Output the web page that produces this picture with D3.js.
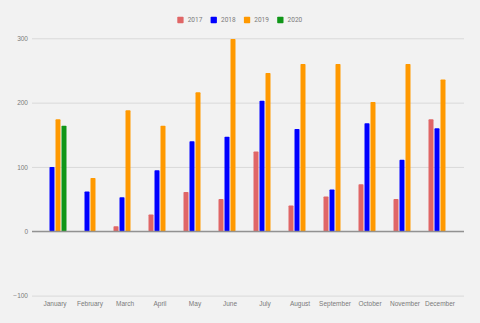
<!DOCTYPE html>
<html><head><meta charset="utf-8">
<script src="https://cdn.jsdelivr.net/npm/d3@7/dist/d3.min.js"></script>
<style>html,body{margin:0;padding:0;background:#f2f2f2;}svg{display:block;font-family:Roboto,"Noto Sans",sans-serif;}</style>
</head><body><svg id="c" width="480" height="323"></svg>
<script>
const months = ["January","February","March","April","May","June","July","August","September","October","November","December"];
const seriesNames = ["2017","2018","2019","2020"];
const colors = ["#e06666","#0000ff","#ff9900","#109618"];
const v2017 = [null,null,8,26,61,50,124,40,54,73,50,174];
const v2018 = [100,62,53,95,140,147,203,159,65,168,111,160];
const v2019 = [174,83,188,164,216,299,246,260,260,201,260,236];
const v2020 = [164,null,null,null,null,null,null,null,null,null,null,null];
const yTicks = [-100,0,100,200,300];

const values = [v2017,v2018,v2019,v2020];
const svg = d3.select("#c");
const W = 480, H = 323;
svg.append("rect").attr("width",W).attr("height",H).attr("fill","#f2f2f2");

const x0 = d3.scaleBand().domain(months).range([37.5,457.5]).padding(0);
const x1 = d3.scaleBand().domain(seriesNames).range([-12,12]).paddingInner(1/6).paddingOuter(1/12);
const y = d3.scaleLinear().domain([-100,300]).range([295.6,38.3]);
const left = 32, right = 464;

const yAxis = d3.axisLeft(y).tickValues(yTicks).tickSize(-(right-left)).tickPadding(4).tickFormat(d3.format("d"));
const ga = svg.append("g").attr("transform",`translate(${left},0)`).call(yAxis);
ga.select(".domain").remove();
ga.selectAll(".tick line").attr("stroke",d=>d===0?"#8c8c8c":"#d9d9d9").attr("stroke-width",1);
ga.selectAll(".tick text").attr("fill","#7a7a7a").attr("font-size","6.5px");

const xa = svg.append("g").attr("transform",`translate(0,296)`).call(d3.axisBottom(x0).tickSize(0).tickPadding(5));
xa.select(".domain").remove();
xa.selectAll(".tick text").attr("fill","#7a7a7a").attr("font-size","6.5px");

const data = [];
months.forEach((m,i)=>seriesNames.forEach((s,j)=>{
  const v = values[j][i];
  if (v!==null && v!==undefined) data.push({m,s,v,c:colors[j]});
}));
svg.append("g").selectAll("rect").data(data).join("rect")
  .attr("x",d=>x0(d.m)+x0.bandwidth()/2+x1(d.s))
  .attr("width",x1.bandwidth())
  .attr("y",d=>y(Math.max(0,d.v)))
  .attr("height",d=>Math.abs(y(d.v)-y(0)))
  .attr("fill",d=>d.c)
  .attr("rx",0.8);

svg.append("line").attr("x1",left).attr("x2",right).attr("y1",y(0)).attr("y2",y(0)).attr("stroke","#8c8c8c").attr("stroke-width",1);

const lg = svg.append("g");
seriesNames.forEach((s,j)=>{
  const lx = 177.3 + j*33.3;
  lg.append("rect").attr("x",lx).attr("y",16.7).attr("width",6.3).attr("height",6.5).attr("rx",0.8).attr("fill",colors[j]);
  lg.append("text").attr("x",lx+10.4).attr("y",20).attr("dy","0.35em").attr("font-size","6.5px").attr("fill","#7a7a7a").text(s);
});
</script></body></html>
